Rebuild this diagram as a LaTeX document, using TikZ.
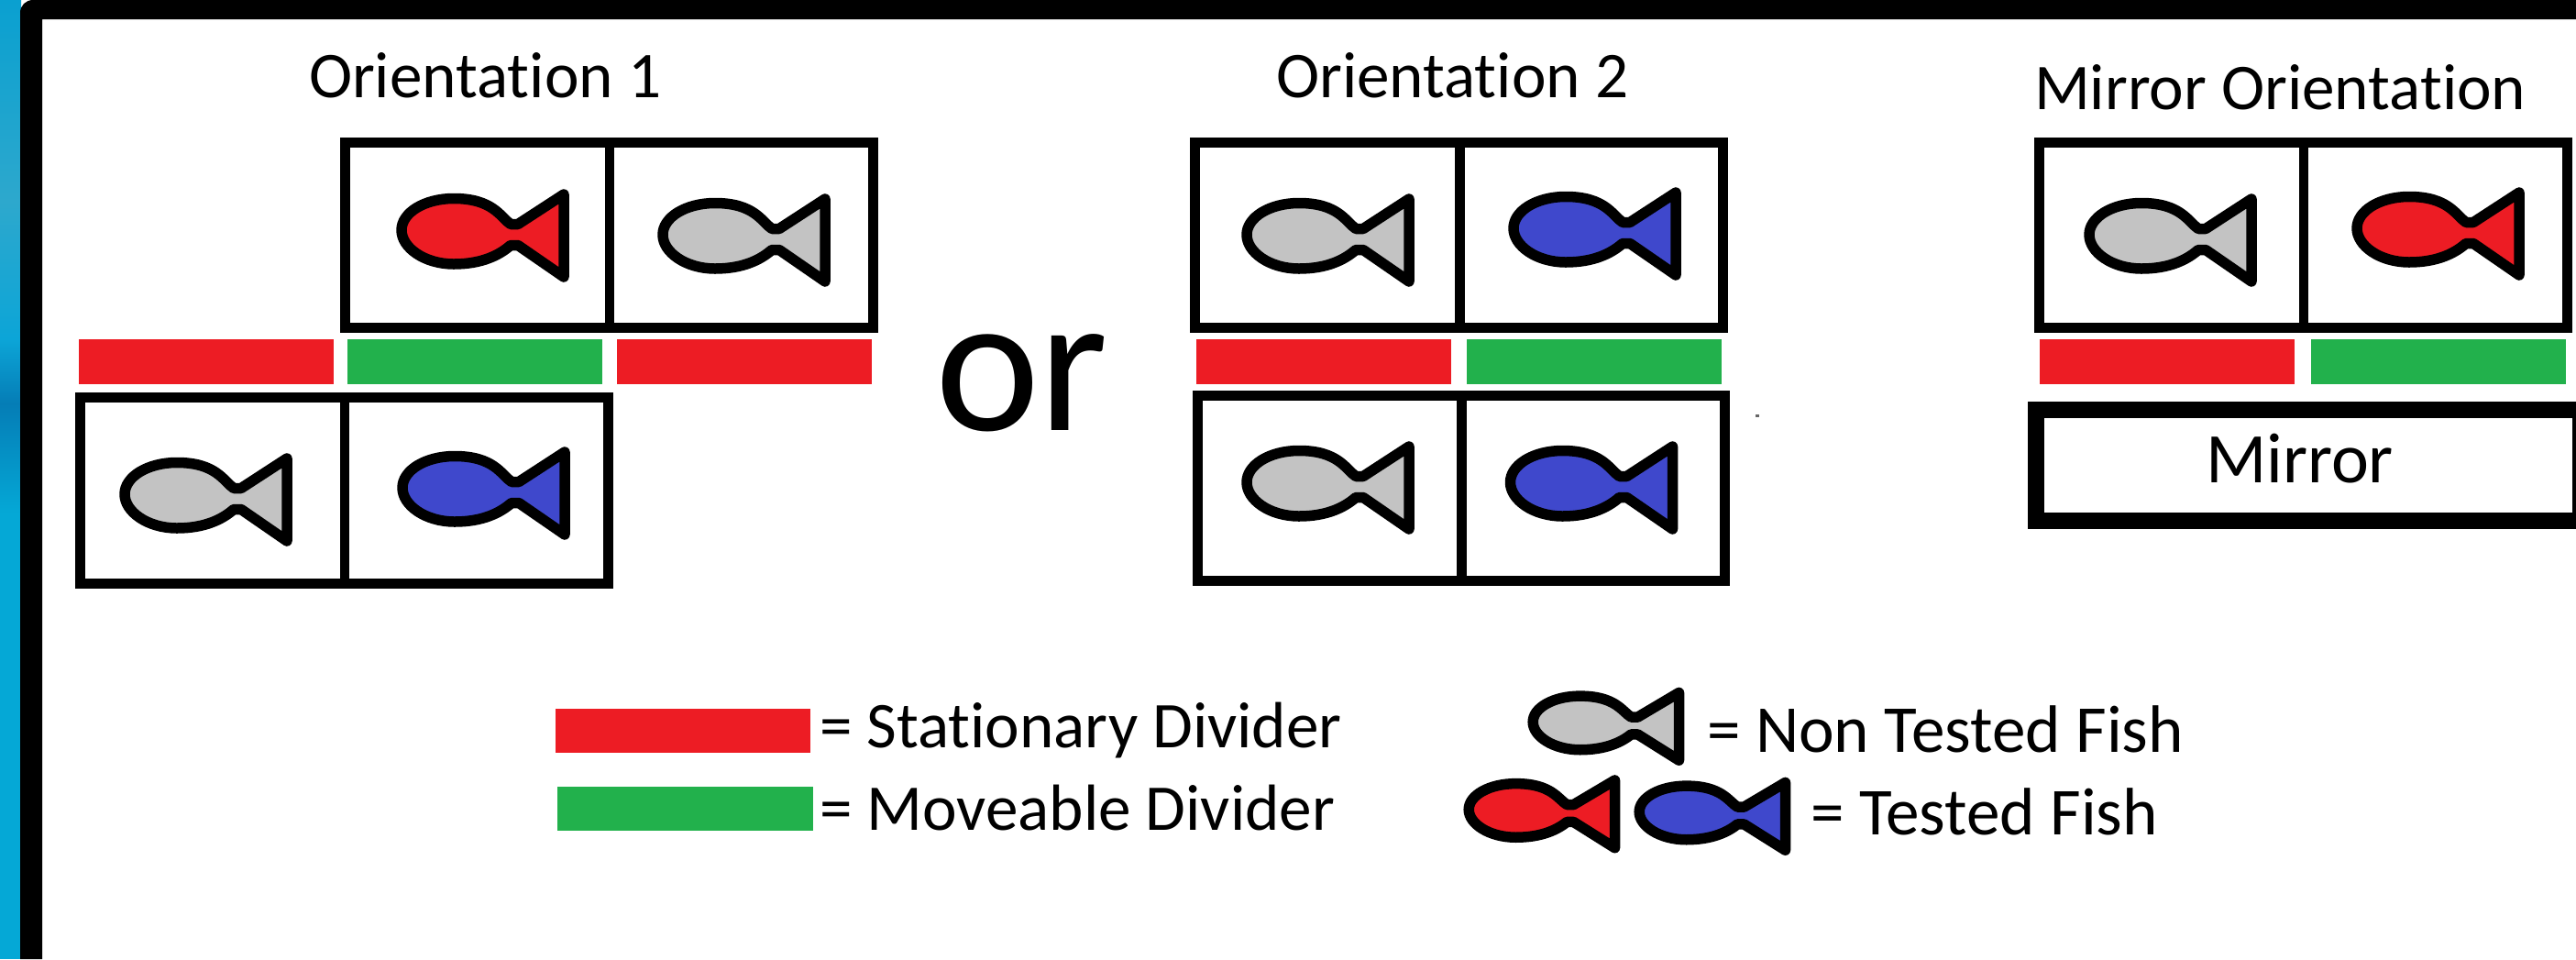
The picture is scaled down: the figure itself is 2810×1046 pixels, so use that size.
\documentclass[tikz,border=0pt]{standalone}
\usepackage{fontspec}
\setmainfont[Ligatures=NoCommon]{Carlito}
\definecolor{fishred}{HTML}{ED1C24}
\definecolor{barred}{HTML}{ED1C24}
\definecolor{bargreen}{HTML}{22B14C}
\definecolor{fishblue}{HTML}{3F48CC}
\definecolor{fishgrey}{HTML}{C3C3C3}
\definecolor{waterA}{RGB}{10,160,208}
\definecolor{waterB}{RGB}{45,168,205}
\definecolor{waterC}{RGB}{12,165,215}
\definecolor{waterD}{RGB}{5,125,182}
\definecolor{waterE}{RGB}{5,168,214}
\tikzset{
  lab/.style={anchor=base west,inner sep=0pt,outer sep=0pt,text=black,font=\fontsize{35.6pt}{40pt}\selectfont},
  fishlab/.style={anchor=base west,inner sep=0pt,outer sep=0pt,text=black,font=\fontsize{36.6pt}{40pt}\selectfont},
  mirrorlab/.style={anchor=base west,inner sep=0pt,outer sep=0pt,text=black,font=\fontsize{38.8pt}{42pt}\selectfont},
  bigword/.style={anchor=base west,inner sep=0pt,outer sep=0pt,text=black,font=\fontsize{108pt}{120pt}\selectfont},
  tank/.style={draw=black,line width=5.5pt,fill=white,line join=miter},
  wall/.style={draw=black,line width=5.25pt},
  redbar/.style={fill=barred,draw=none},
  greenbar/.style={fill=bargreen,draw=none},
  fishbody/.style={draw=black,line width=5.75pt,line join=round},
}
% #1 x, #2 y (neck x, tail centre y), #3 fill, #4 x scale, #5 y scale
\newcommand{\fishat}[5]{%
  \begin{scope}[shift={(#1,#2)},xscale=#4,yscale=#5]
    \draw[fishbody,fill=#3]
      (5,-11.5) -- (-3,-11.5) .. controls (-14,-19) and (-22,-39.5) .. (-65,-39.5)
      .. controls (-97,-39.5) and (-122,-24) .. (-122,-5)
      .. controls (-122,14) and (-97,32) .. (-65,32)
      .. controls (-34,32) and (-15,22) .. (-3,11.5)
      -- (5,11.5) -- (55,46) -- (55,-44) -- cycle;
  \end{scope}}
\begin{document}
\begin{tikzpicture}[x=0.5pt,y=-0.5pt]
\useasboundingbox (0,0) rectangle (2810,1046);
\fill[white] (0,0) rectangle (2810,1046);
% water strip on the left
\shade[top color=waterA,bottom color=waterB] (0,0) rectangle (23,220);
\shade[top color=waterB,bottom color=waterC] (0,220) rectangle (23,370);
\shade[top color=waterC,bottom color=waterD] (0,370) rectangle (23,440);
\shade[top color=waterD,bottom color=waterE] (0,440) rectangle (23,560);
\fill[waterE] (0,560) rectangle (23,1046);
% black frame
\fill[black] (22,1046) -- (22,14) .. controls (22,6) and (28,0) .. (36,0) -- (2810,0) -- (2810,21) -- (46,21) -- (46,1046) -- cycle;

% Orientation 1
\draw[tank] (376,155) rectangle (952,357.5);
\draw[wall] (665,155) -- (665,357.5);
\fishat{560}{256}{fishred}{1}{1}
\fishat{845}{261}{fishgrey}{1}{1}
\fill[redbar] (86,370) rectangle (364,419);
\fill[greenbar] (379,370) rectangle (657,419);
\fill[redbar] (673,370) rectangle (951,419);
\draw[tank] (87,433.5) rectangle (663,636.5);
\draw[wall] (376,433.5) -- (376,636.5);
\fishat{258}{544}{fishgrey}{1}{1}
\fishat{561}{537}{fishblue}{1}{1}
\node[lab] (t1) at (337,106) {Orientation 1};

% or
\node[bigword] (orword) at (1020,469) {or};

% Orientation 2
\draw[tank] (1303.5,155.5) rectangle (1879.5,357.5);
\draw[wall] (1592.5,155.5) -- (1592.5,357.5);
\fishat{1482}{261}{fishgrey}{1}{1}
\fishat{1773}{254}{fishblue}{1}{1}
\fill[redbar] (1304.5,370) rectangle (1582.5,419);
\fill[greenbar] (1600,370) rectangle (1878,419);
\draw[tank] (1306,431.5) rectangle (1881.5,633.5);
\draw[wall] (1594.5,431.5) -- (1594.5,633.5);
\fishat{1482}{531}{fishgrey}{1}{1}
\fishat{1769.5}{531}{fishblue}{1}{1}
\node[lab] (t2) at (1392,106) {Orientation 2};
\fill[black!60] (1915,452) rectangle (1919,455);

% Mirror orientation
\draw[tank] (2224.5,155.5) rectangle (2800.5,357.5);
\draw[wall] (2513,155.5) -- (2513,357.5);
\fishat{2401}{261}{fishgrey}{1}{1}
\fishat{2693}{254}{fishred}{1}{1}
\fill[redbar] (2225,370) rectangle (2503,419);
\fill[greenbar] (2521,370) rectangle (2799,419);
\begin{scope}
  \clip (0,0) rectangle (2810,1046);
  \draw[draw=black,line width=9pt,fill=white] (2221,446.5) rectangle (2815,568);
\end{scope}
\node[lab] (t3) at (2219,119) {Mirror Orientation};
\node[mirrorlab] (mirrorword) at (2406,526) {Mirror};

% Legend
\fill[redbar] (606,773) rectangle (884,821);
\fill[greenbar] (608,858) rectangle (887,906);
\node[lab] (l1) at (894,815) {= Stationary Divider};
\node[lab] (l2) at (894,905) {= Moveable Divider};
\fishat{1782}{791.5}{fishgrey}{0.9}{0.82}
\fishat{1712}{887}{fishred}{0.9}{0.82}
\fishat{1898}{889.5}{fishblue}{0.9}{0.82}
\node[fishlab] (l3) at (1862,820) {= Non Tested Fish};
\node[fishlab] (l4) at (1975,910) {= Tested Fish};
\end{tikzpicture}
\end{document}
